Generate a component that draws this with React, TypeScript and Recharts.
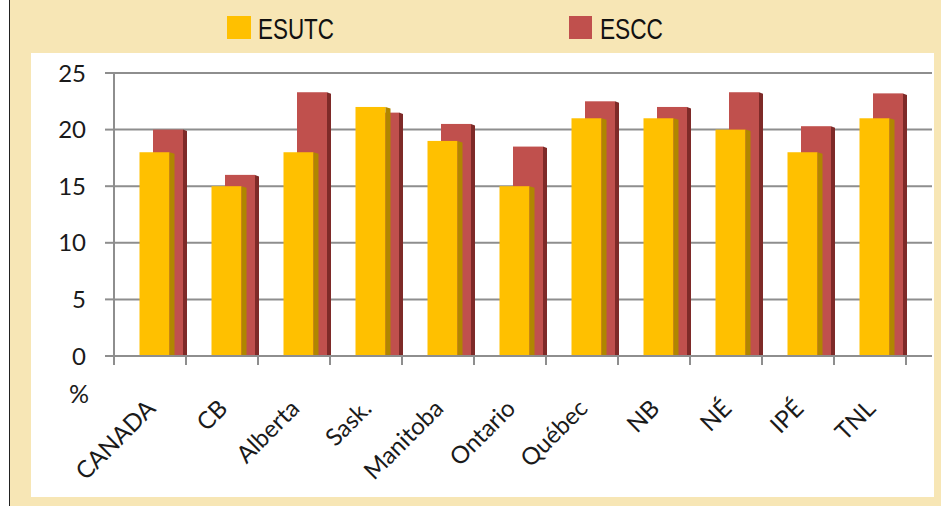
import React from 'react';
import { BarChart, Bar, XAxis, YAxis, CartesianGrid } from 'recharts';

const categories = ['CANADA', 'CB', 'Alberta', 'Sask.', 'Manitoba', 'Ontario', 'Québec', 'NB', 'NÉ', 'IPÉ', 'TNL'];
const esutcValues = [18, 15, 18, 22, 19, 15, 21, 21, 20, 18, 21];
const esccValues = [20, 16, 23.3, 21.5, 20.5, 18.5, 22.5, 22, 23.3, 20.3, 23.2];
const seriesNames = ['ESUTC', 'ESCC'];
const yTicks = [0, 5, 10, 15, 20, 25];
const unitLabel = '%';

const data = categories.map((name, i) => ({
  name,
  [seriesNames[0]]: esutcValues[i],
  [seriesNames[1]]: esccValues[i],
}));

const GRID = '#8e8e8e';
const FONT = 'Lato, "Open Sans", sans-serif';

const make3D = (face: string, side: string, sideW: number) => (props: any) => {
  const { x, y, width, height } = props;
  if (!height || height <= 0) return <g />;
  const fw = width - sideW;
  return (
    <g>
      <rect x={x} y={y} width={fw} height={height} fill={face} />
      <polygon
        points={`${x + fw},${y} ${x + width},${y + 1.5} ${x + width},${y + height} ${x + fw},${y + height}`}
        fill={side}
      />
    </g>
  );
};

const yellowShape = make3D('#FFC000', '#B08600', 5);
const redShape = make3D('#C0504D', '#7E2A28', 4);

const CatTick = (props: any) => {
  const { x, y, payload, index } = props;
  const off = payload && payload.offset ? payload.offset : 0;
  const axisY = y - 9;
  const ax = x + 7;
  const ay = axisY + 54;
  return (
    <g>
      <line x1={x - off} x2={x - off} y1={axisY} y2={axisY + 9} stroke={GRID} strokeWidth={2} />
      {index === categories.length - 1 && (
        <line x1={x + off} x2={x + off} y1={axisY} y2={axisY + 9} stroke={GRID} strokeWidth={2} />
      )}
      <text
        x={ax}
        y={ay}
        transform={`rotate(-45 ${ax} ${ay})`}
        textAnchor="end"
        fill="#1a1a1a"
        fontSize={24}
        fontFamily={FONT}
      >
        {payload.value}
      </text>
    </g>
  );
};

export default function App() {
  return (
    <div style={{ position: 'absolute', left: 0, top: 0, width: 941, height: 506, background: '#ffffff', overflow: 'hidden' }}>
      <div
        style={{
          position: 'absolute',
          left: 9,
          top: 0,
          width: 931,
          height: 506,
          background: '#F7E6B5',
          borderLeft: '1px solid #222',
        }}
      />
      <div style={{ position: 'absolute', left: 31, top: 53, width: 903, height: 444, background: '#ffffff' }} />
      <div style={{ position: 'absolute', left: 0, top: 0 }}>
        <BarChart
          width={941}
          height={506}
          data={data}
          margin={{ top: 73, right: 9, left: 54, bottom: 40 }}
        >
          <CartesianGrid vertical={false} stroke={GRID} strokeWidth={2} />
          <XAxis
            xAxisId="lab"
            dataKey="name"
            interval={0}
            height={110}
            padding={{ left: 0, right: 26 }}
            axisLine={{ stroke: GRID, strokeWidth: 2 }}
            tickLine={false}
            tickSize={9}
            tickMargin={0}
            tick={<CatTick />}
          />
          <XAxis xAxisId="yel" dataKey="name" hide padding={{ left: 6.5, right: 19.5 }} />
          <XAxis xAxisId="red" dataKey="name" hide padding={{ left: 20, right: 6 }} />
          <YAxis
            domain={[0, 25]}
            ticks={yTicks}
            width={60}
            tickSize={9}
            tickMargin={19}
            axisLine={{ stroke: GRID, strokeWidth: 2 }}
            tickLine={{ stroke: GRID, strokeWidth: 2 }}
            tick={{ fill: '#1a1a1a', fontSize: 24, fontFamily: FONT }}
          />
          <Bar
            xAxisId="red"
            dataKey={seriesNames[1]}
            barSize={34}
            fill="#C0504D"
            shape={redShape}
            isAnimationActive={false}
          />
          <Bar
            xAxisId="yel"
            dataKey={seriesNames[0]}
            barSize={35}
            fill="#FFC000"
            shape={yellowShape}
            isAnimationActive={false}
          />
        </BarChart>
      </div>
      <svg width={941} height={506} style={{ position: 'absolute', left: 0, top: 0, pointerEvents: 'none' }}>
        <rect x={227} y={16} width={24} height={23} fill="#FFC000" />
        <text x={258} y={39} fontSize={29} fontFamily='"Liberation Sans", Arial, sans-serif' textLength={76} lengthAdjust="spacingAndGlyphs" fill="#111">
          {seriesNames[0]}
        </text>
        <rect x={569} y={16} width={23} height={23} fill="#C0504D" />
        <text x={600} y={39} fontSize={29} fontFamily='"Liberation Sans", Arial, sans-serif' textLength={63} lengthAdjust="spacingAndGlyphs" fill="#111">
          {seriesNames[1]}
        </text>
        <text x={69} y={403} fontSize={25} fontFamily={FONT} fill="#1a1a1a">
          {unitLabel}
        </text>
      </svg>
    </div>
  );
}
